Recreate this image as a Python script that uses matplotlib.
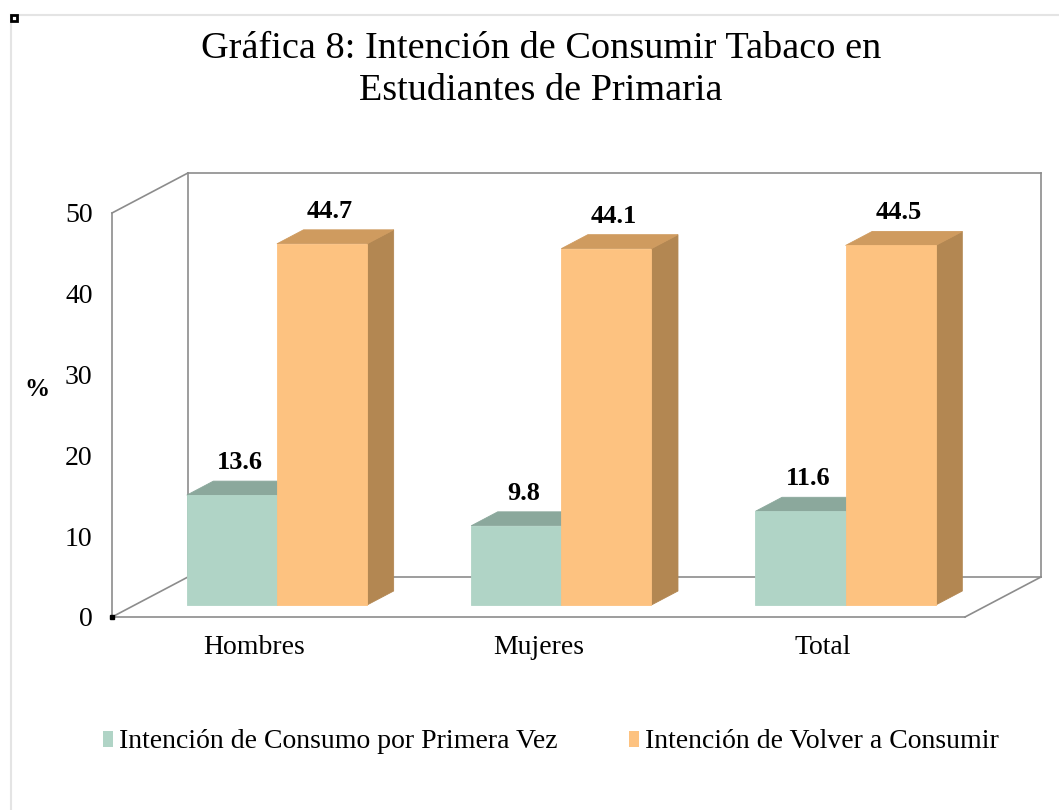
import numpy as np
import matplotlib.pyplot as plt
from matplotlib.patches import Polygon, Patch, Rectangle

# data
categorias = ['Hombres', 'Mujeres', 'Total']
primera_vez = [13.6, 9.8, 11.6]
volver = [44.7, 44.1, 44.5]
series = ['Intención de Consumo por Primera Vez', 'Intención de Volver a Consumir']
yticks = [0, 10, 20, 30, 40, 50]

plt.rcParams['font.family'] = ['Liberation Serif', 'DejaVu Serif']

W, H = 1059, 810
fig = plt.figure(figsize=(W / 100, H / 100), dpi=100)
ax = fig.add_axes([112 / W, 193 / H, 853 / W, 404 / H])
ax.set_xlim(0, len(categorias))
ax.set_ylim(0, 50)
for s in ax.spines.values():
    s.set_visible(False)

# 3d look: full depth offset of the walls and of the bars
DX, DY = 0.267, 4.95
bar_d0, bar_d1 = 0.30, 0.65
w = 0.317
gris = '#8c8c8c'

def pt(x, y, d):
    return (x + d * DX, y + d * DY)

def line(p, q):
    ax.plot([p[0], q[0]], [p[1], q[1]], color=gris, lw=1.2, clip_on=False, zorder=1)

n = len(categorias)
ymax = 50
# walls and floor
line(pt(0, 0, 0), pt(0, ymax, 0))
line(pt(0, ymax, 0), pt(0, ymax, 1))
line(pt(0, 0, 1), pt(0, ymax, 1))
line(pt(0, ymax, 1), pt(n, ymax, 1))
line(pt(n, 0, 1), pt(n, ymax, 1))
line(pt(0, 0, 1), pt(n, 0, 1))
line(pt(0, 0, 0), pt(0, 0, 1))
line(pt(n, 0, 0), pt(n, 0, 1))
line(pt(0, 0, 0), pt(n, 0, 0))
ax.plot([0], [0], marker='s', ms=2.5, color='black', clip_on=False, zorder=2)

colores = [('#b0d4c6', '#8ba89c', '#7f9a8f'), ('#fdc280', '#cf9b5f', '#b38752')]

def barra(x0, x1, v, cols):
    front, top, side = cols
    f = [pt(x0, 0, bar_d0), pt(x1, 0, bar_d0), pt(x1, v, bar_d0), pt(x0, v, bar_d0)]
    t = [pt(x0, v, bar_d0), pt(x1, v, bar_d0), pt(x1, v, bar_d1), pt(x0, v, bar_d1)]
    s = [pt(x1, 0, bar_d0), pt(x1, 0, bar_d1), pt(x1, v, bar_d1), pt(x1, v, bar_d0)]
    for poly, c in ((s, side), (t, top), (f, front)):
        ax.add_patch(Polygon(poly, closed=True, fc=c, ec=c, lw=0.6, clip_on=False, zorder=3))

for i in range(n):
    c = i + 0.5
    barra(c - w, c, primera_vez[i], colores[0])
    barra(c, c + w, volver[i], colores[1])
    for x0, v in ((c - w, primera_vez[i]), (c, volver[i])):
        lx, _ = pt(x0 + w / 2, v, bar_d0 + 0.1)
        _, ly = pt(x0, v, bar_d1)
        ax.text(lx, ly + 2.3, '%.1f' % v, ha='center', va='center',
                fontsize=19, fontweight='bold', zorder=5)

ax.set_yticks(yticks)
ax.set_yticklabels([str(t) for t in yticks], fontsize=20)
ax.set_xticks([i + 0.5 for i in range(n)])
ax.set_xticklabels(categorias, fontsize=20)
ax.tick_params(length=0)
ax.tick_params(axis='y', pad=14)
ax.tick_params(axis='x', pad=13)

fig.text(37 / W, 1 - 390 / H, '%', fontsize=18, fontweight='bold', ha='center', va='center')
fig.text(541 / W, 1 - 70 / H, 'Gráfica 8: Intención de Consumir Tabaco en\nEstudiantes de Primaria',
         fontsize=27.5, ha='center', va='center', linespacing=1.28)

handles = [Patch(fc=colores[0][0], ec='none'), Patch(fc=colores[1][0], ec='none')]
fig.legend(handles, series, loc='center', bbox_to_anchor=(551 / W, 1 - 742 / H), ncol=2,
           frameon=False, fontsize=20, handlelength=0.36, handleheight=0.5,
           handletextpad=0.2, columnspacing=2.6, borderpad=0)

# chart frame
fig.add_artist(plt.Line2D([11 / W, 1], [1 - 15 / H, 1 - 15 / H], color='#e4e4e4', lw=1.5))
fig.add_artist(plt.Line2D([11 / W, 11 / W], [0, 1 - 15 / H], color='#e4e4e4', lw=1.5))
fig.add_artist(Rectangle((11 / W, 1 - 21 / H), 6 / W, 6 / H, fc='white', ec='black', lw=2, zorder=10))

fig.savefig('out.png', dpi=100)
